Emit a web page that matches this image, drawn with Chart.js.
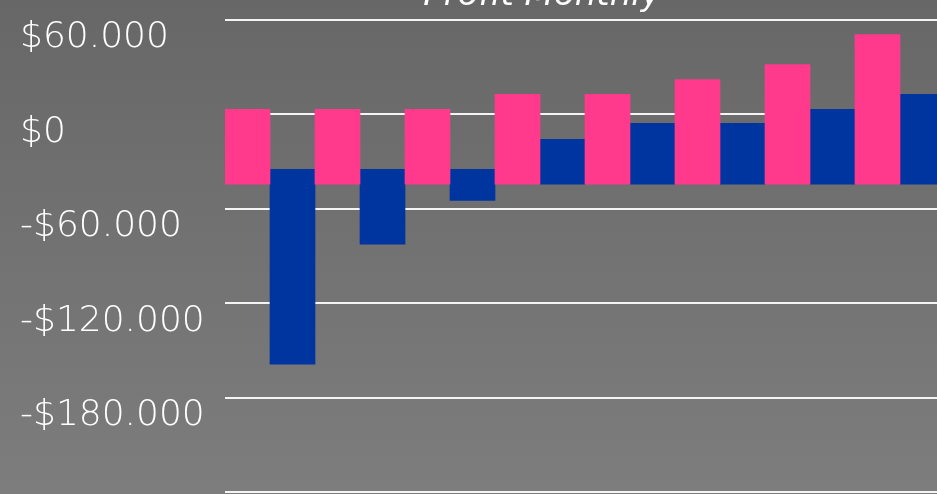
<!DOCTYPE html>
<html>
<head>
<meta charset="utf-8">
<title>Profit Monthly</title>
<script src="https://cdn.jsdelivr.net/npm/chart.js@4.4.1/dist/chart.umd.min.js"></script>
<style>
  html, body {
    margin: 0;
    padding: 0;
    width: 937px;
    height: 494px;
    overflow: hidden;
    background: linear-gradient(#676767, #7d7d7d);
  }
  #wrap {
    position: relative;
    width: 950px;
    height: 494px;
  }
  #title {
    position: absolute;
    top: -24px;
    left: 542px;
    transform: translateX(-50%);
    font: italic 200 34px/34px "DejaVu Sans", sans-serif;
    color: #ffffff;
    white-space: nowrap;
  }
</style>
</head>
<body>
<div id="wrap">
  <canvas id="myChart"></canvas>
  <div id="title">Profit Monthly</div>
</div>

<script>
// Data
const months = ['Jan', 'Feb', 'Mar', 'Apr', 'May', 'Jun', 'Jul', 'Aug'];
const incomeFrom = [-44400, -44400, -44400, -44400, -44400, -44400, -44400, -44400];
const incomeTo = [3200, 3200, 3200, 12700, 12700, 22200, 31700, 50800];
const profitFrom = [-34900, -34900, -34900, -44400, -44400, -44400, -44400, -44400];
const profitTo = [-158700, -82500, -54600, -15900, -5700, -5700, 3200, 12700];
const yTicks = [60000, 0, -60000, -120000, -180000, -240000];

// Money format like "$60.000" / "-$120.000"
function money(v) {
  const s = Math.abs(v).toString().replace(/\B(?=(\d{3})+(?!\d))/g, '.');
  return (v < 0 ? '-$' : '$') + s;
}

document.addEventListener("DOMContentLoaded", function () {
  const ctx = document.getElementById('myChart').getContext('2d');
  new Chart(ctx, {
    type: 'bar',
    data: {
      labels: months,
      datasets: [
        {
          label: 'Income',
          data: months.map((m, i) => [incomeFrom[i], incomeTo[i]]),
          backgroundColor: '#ff3a8c',
          borderWidth: 0,
          barPercentage: 1,
          categoryPercentage: 1
        },
        {
          label: 'Profit',
          data: months.map((m, i) => [profitFrom[i], profitTo[i]]),
          backgroundColor: '#0035a0',
          borderWidth: 0,
          barPercentage: 1,
          categoryPercentage: 1
        }
      ]
    },
    options: {
      responsive: true,
      maintainAspectRatio: false,
      animation: false,
      layout: {
        padding: { left: 20, top: 20, right: 5, bottom: 2 }
      },
      plugins: {
        legend: { display: false },
        title: { display: false },
        tooltip: { enabled: false }
      },
      scales: {
        x: { display: false },
        y: {
          min: yTicks[yTicks.length - 1],
          max: yTicks[0],
          afterBuildTicks: (scale) => {
            scale.ticks = yTicks.map(v => ({ value: v }));
          },
          afterFit: (scale) => {
            // fixed axis width, no extra room for the labels
            scale.width = 205;
            scale.paddingTop = 0;
            scale.paddingBottom = 0;
          },
          border: { display: false },
          grid: {
            color: '#f4f4f4',
            lineWidth: 2,
            drawTicks: false
          },
          ticks: {
            crossAlign: 'far',
            labelOffset: 18,
            color: '#ffffff',
            font: { family: 'DejaVu Sans', size: 36, weight: 200 },
            callback: (v) => (v === yTicks[yTicks.length - 1] ? '' : money(v))
          }
        }
      }
    }
  });
});
</script>
</body>
</html>
